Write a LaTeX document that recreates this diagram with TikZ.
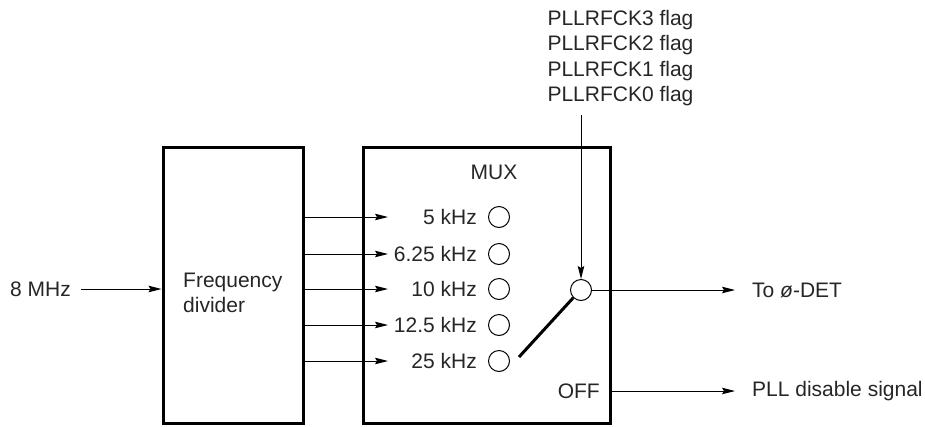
\documentclass[tikz,border=0pt]{standalone}
\usepackage{fontspec}
\setmainfont{Liberation Sans}
\usetikzlibrary{arrows.meta}
\begin{document}
\begin{tikzpicture}[x=1pt,y=-1pt,
  font=\fontsize{21}{25.5}\selectfont,
  box/.style={draw, line width=3pt, rectangle, inner sep=0pt},
  conn/.style={line width=1pt, -{Stealth[length=13pt,width=6.5pt,inset=2pt]}},
  port/.style={circle, draw, line width=1pt, minimum size=21pt, inner sep=0pt},
  txt/.style={inner sep=0pt, text=black!85}]
\useasboundingbox (0,0) rectangle (925,426);

% boxes
\node[box, minimum width=140pt, minimum height=276pt] (div) at (233,285) {};
\node[box, minimum width=247pt, minimum height=276pt] (mux) at (486.5,285) {};
\node[txt, align=left, anchor=west] (divtxt) at (183,293) {Frequency\\divider};
\node[txt] (muxtxt) at (494,172) {MUX};

% input
\node[txt, anchor=west] (in8) at (10,289) {8 MHz};
\draw[conn] ([xshift=10pt]in8.east) -- (div.west |- in8);

% frequency lines
\foreach \i/\y/\t in {1/217/5 kHz, 2/254/6.25 kHz, 3/289/10 kHz, 4/325/12.5 kHz, 5/361/25 kHz}{
  \node[txt, anchor=east] (l\i) at (477,\y) {\t};
  \node[port] (p\i) at (499,\y) {};
  \coordinate (a\i) at (388,\y);
  \draw[conn] (div.east |- a\i) -- (a\i);
}

% common terminal and switch
\node[port] (com) at (581,290) {};
\draw[line width=3pt] (519,357) -- (com.225);

% flags
\node[txt, align=left] (flags) at (620.5,58) {PLLRFCK3 flag\\PLLRFCK2 flag\\PLLRFCK1 flag\\PLLRFCK0 flag};
\coordinate (fl) at (581,115);
\draw[conn] (fl) -- (com.north);

% outputs
\coordinate (o1) at (735,290);
\draw[conn] (com.east) -- (o1);
\node[txt, anchor=west] (det) at (752,290) {To {\itshape ø}-DET};

\node[txt, anchor=east] (off) at (600,391) {OFF};
\coordinate (o2) at (735,391);
\draw[conn] (mux.east |- o2) -- (o2);
\node[txt, anchor=west] (pll) at (752,391) {PLL disable signal};
\end{tikzpicture}
\end{document}
